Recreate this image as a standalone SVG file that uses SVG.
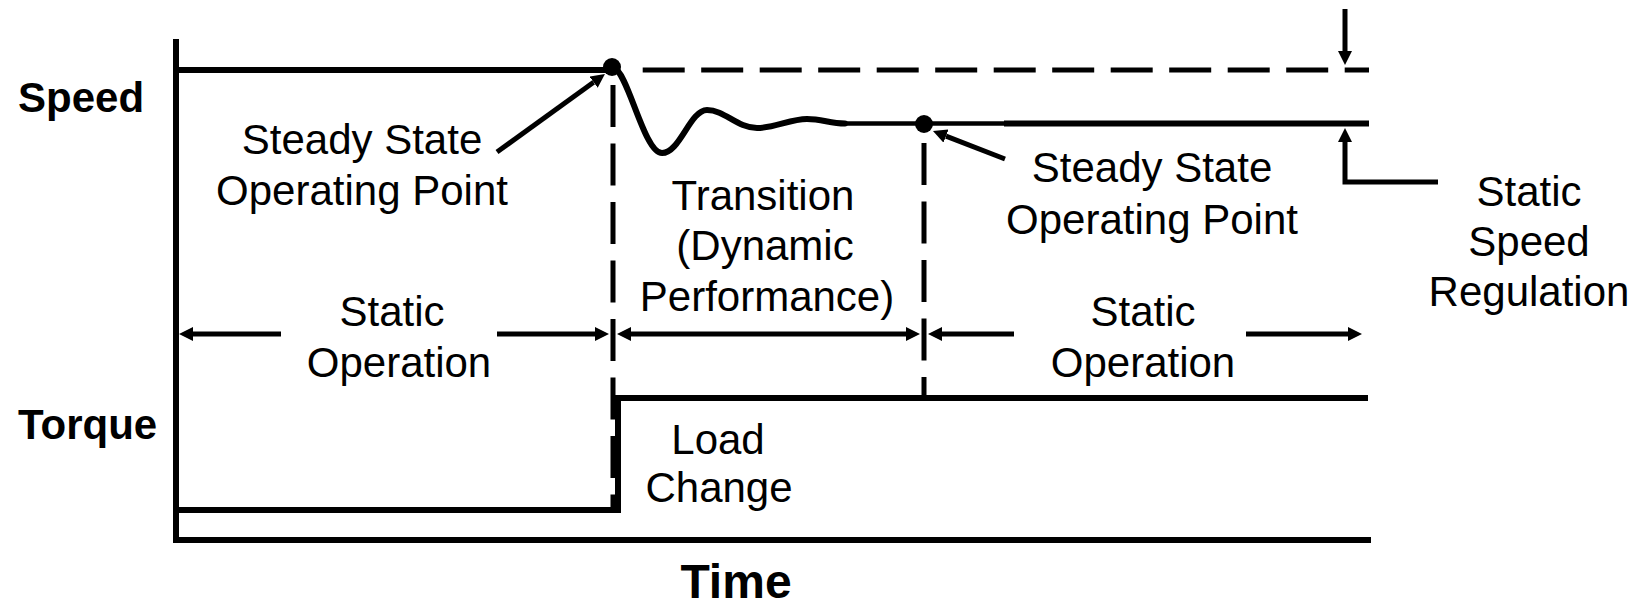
<svg xmlns="http://www.w3.org/2000/svg" width="1642" height="606" viewBox="0 0 1642 606">
  <style>
    .ax { stroke: #000; stroke-width: 6; fill: none; stroke-linecap: square; }
    .dash { stroke: #000; stroke-width: 5; fill: none; stroke-dasharray: 42 16.5; }
    .wave { stroke: #000; stroke-width: 6; fill: none; stroke-linejoin: round; stroke-linecap: round; }
    .arr { stroke: #000; stroke-width: 5; fill: none; }
    .lbl { font-family: "Liberation Sans", Arial, sans-serif; font-size: 42px; fill: #000; text-anchor: middle; }
    .axl { font-family: "Liberation Sans", Arial, sans-serif; font-weight: bold; font-size: 42px; fill: #000; }
    .axl.big { font-size: 48px; text-anchor: middle; }
  </style>
  <defs>
    <marker id="ah" viewBox="0 0 14 14" refX="0" refY="7" markerWidth="14" markerHeight="14" markerUnits="userSpaceOnUse" orient="auto-start-reverse">
      <path d="M0,0 L14,7 L0,14 z" fill="#000"/>
    </marker>
  </defs>

  <!-- axes -->
  <g id="axes">
    <line class="ax" x1="176" y1="42" x2="176" y2="540"/>
    <line class="ax" x1="176" y1="540" x2="1368" y2="540"/>
    <text class="axl" x="18" y="112">Speed</text>
    <text class="axl" x="18" y="439">Torque</text>
    <text class="axl big" x="736" y="598">Time</text>
  </g>

  <!-- speed trace -->
  <g id="speed">
    <line class="ax" x1="176" y1="70" x2="610" y2="70"/>
    <line class="dash" x1="642.7" y1="70" x2="1369" y2="70"/>
    <path class="wave" d="M614,68 C628,72 644,153 662,153 C680,153 690,110 707,110 C725,110 737,128 757,128 C775,128 790,119 807,119 C822,119 830,123.5 845,123.5"/>
    <line stroke="#000" stroke-width="4.5" x1="845" y1="123.5" x2="1004" y2="123.5"/>
    <line stroke="#000" stroke-width="6" x1="1004" y1="123.5" x2="1369" y2="123.5"/>
    <circle cx="612" cy="67" r="9" fill="#000"/>
    <circle cx="924" cy="124" r="9" fill="#000"/>
  </g>

  <!-- torque trace -->
  <g id="torque">
    <path class="ax" stroke-linecap="butt" d="M176,510 L618,510 L618,398 L1365,398"/>
  </g>

  <!-- interval boundaries -->
  <g id="boundaries">
    <line class="dash" x1="613" y1="85" x2="613" y2="510"/>
    <line class="dash" x1="924" y1="143" x2="924" y2="398"/>
  </g>

  <!-- annotation arrows -->
  <g id="connectors">
    <line class="arr" x1="281" y1="334" x2="193" y2="334" marker-end="url(#ah)"/>
    <line class="arr" x1="497" y1="334" x2="595" y2="334" marker-end="url(#ah)"/>
    <line class="arr" x1="631" y1="334" x2="906" y2="334" marker-start="url(#ah)" marker-end="url(#ah)"/>
    <line class="arr" x1="1014" y1="334" x2="942" y2="334" marker-end="url(#ah)"/>
    <line class="arr" x1="1246" y1="334" x2="1348" y2="334" marker-end="url(#ah)"/>
    <line class="arr" x1="497" y1="152" x2="593.6" y2="82.2" marker-end="url(#ah)"/>
    <line class="arr" x1="1005" y1="159" x2="946" y2="136.1" marker-end="url(#ah)"/>
    <line class="arr" stroke-width="4" x1="1345" y1="9" x2="1345" y2="51" marker-end="url(#ah)"/>
    <path class="arr" d="M1438,182 L1345,182 L1345,142" marker-end="url(#ah)"/>
  </g>

  <!-- labels -->
  <g id="label-ss-left">
    <text class="lbl" x="362" y="154">Steady State</text>
    <text class="lbl" x="362" y="205">Operating Point</text>
  </g>
  <g id="label-transition">
    <text class="lbl" x="763" y="210">Transition</text>
    <text class="lbl" x="765" y="260">(Dynamic</text>
    <text class="lbl" x="767" y="311">Performance)</text>
  </g>
  <g id="label-ss-right">
    <text class="lbl" x="1152" y="182">Steady State</text>
    <text class="lbl" x="1152" y="234">Operating Point</text>
  </g>
  <g id="label-static-left">
    <text class="lbl" x="392" y="326">Static</text>
    <text class="lbl" x="399" y="377">Operation</text>
  </g>
  <g id="label-static-right">
    <text class="lbl" x="1143" y="326">Static</text>
    <text class="lbl" x="1143" y="377">Operation</text>
  </g>
  <g id="label-load">
    <text class="lbl" x="718" y="454">Load</text>
    <text class="lbl" x="719" y="502">Change</text>
  </g>
  <g id="label-regulation">
    <text class="lbl" x="1529" y="206">Static</text>
    <text class="lbl" x="1529" y="256">Speed</text>
    <text class="lbl" x="1529" y="306">Regulation</text>
  </g>
</svg>
